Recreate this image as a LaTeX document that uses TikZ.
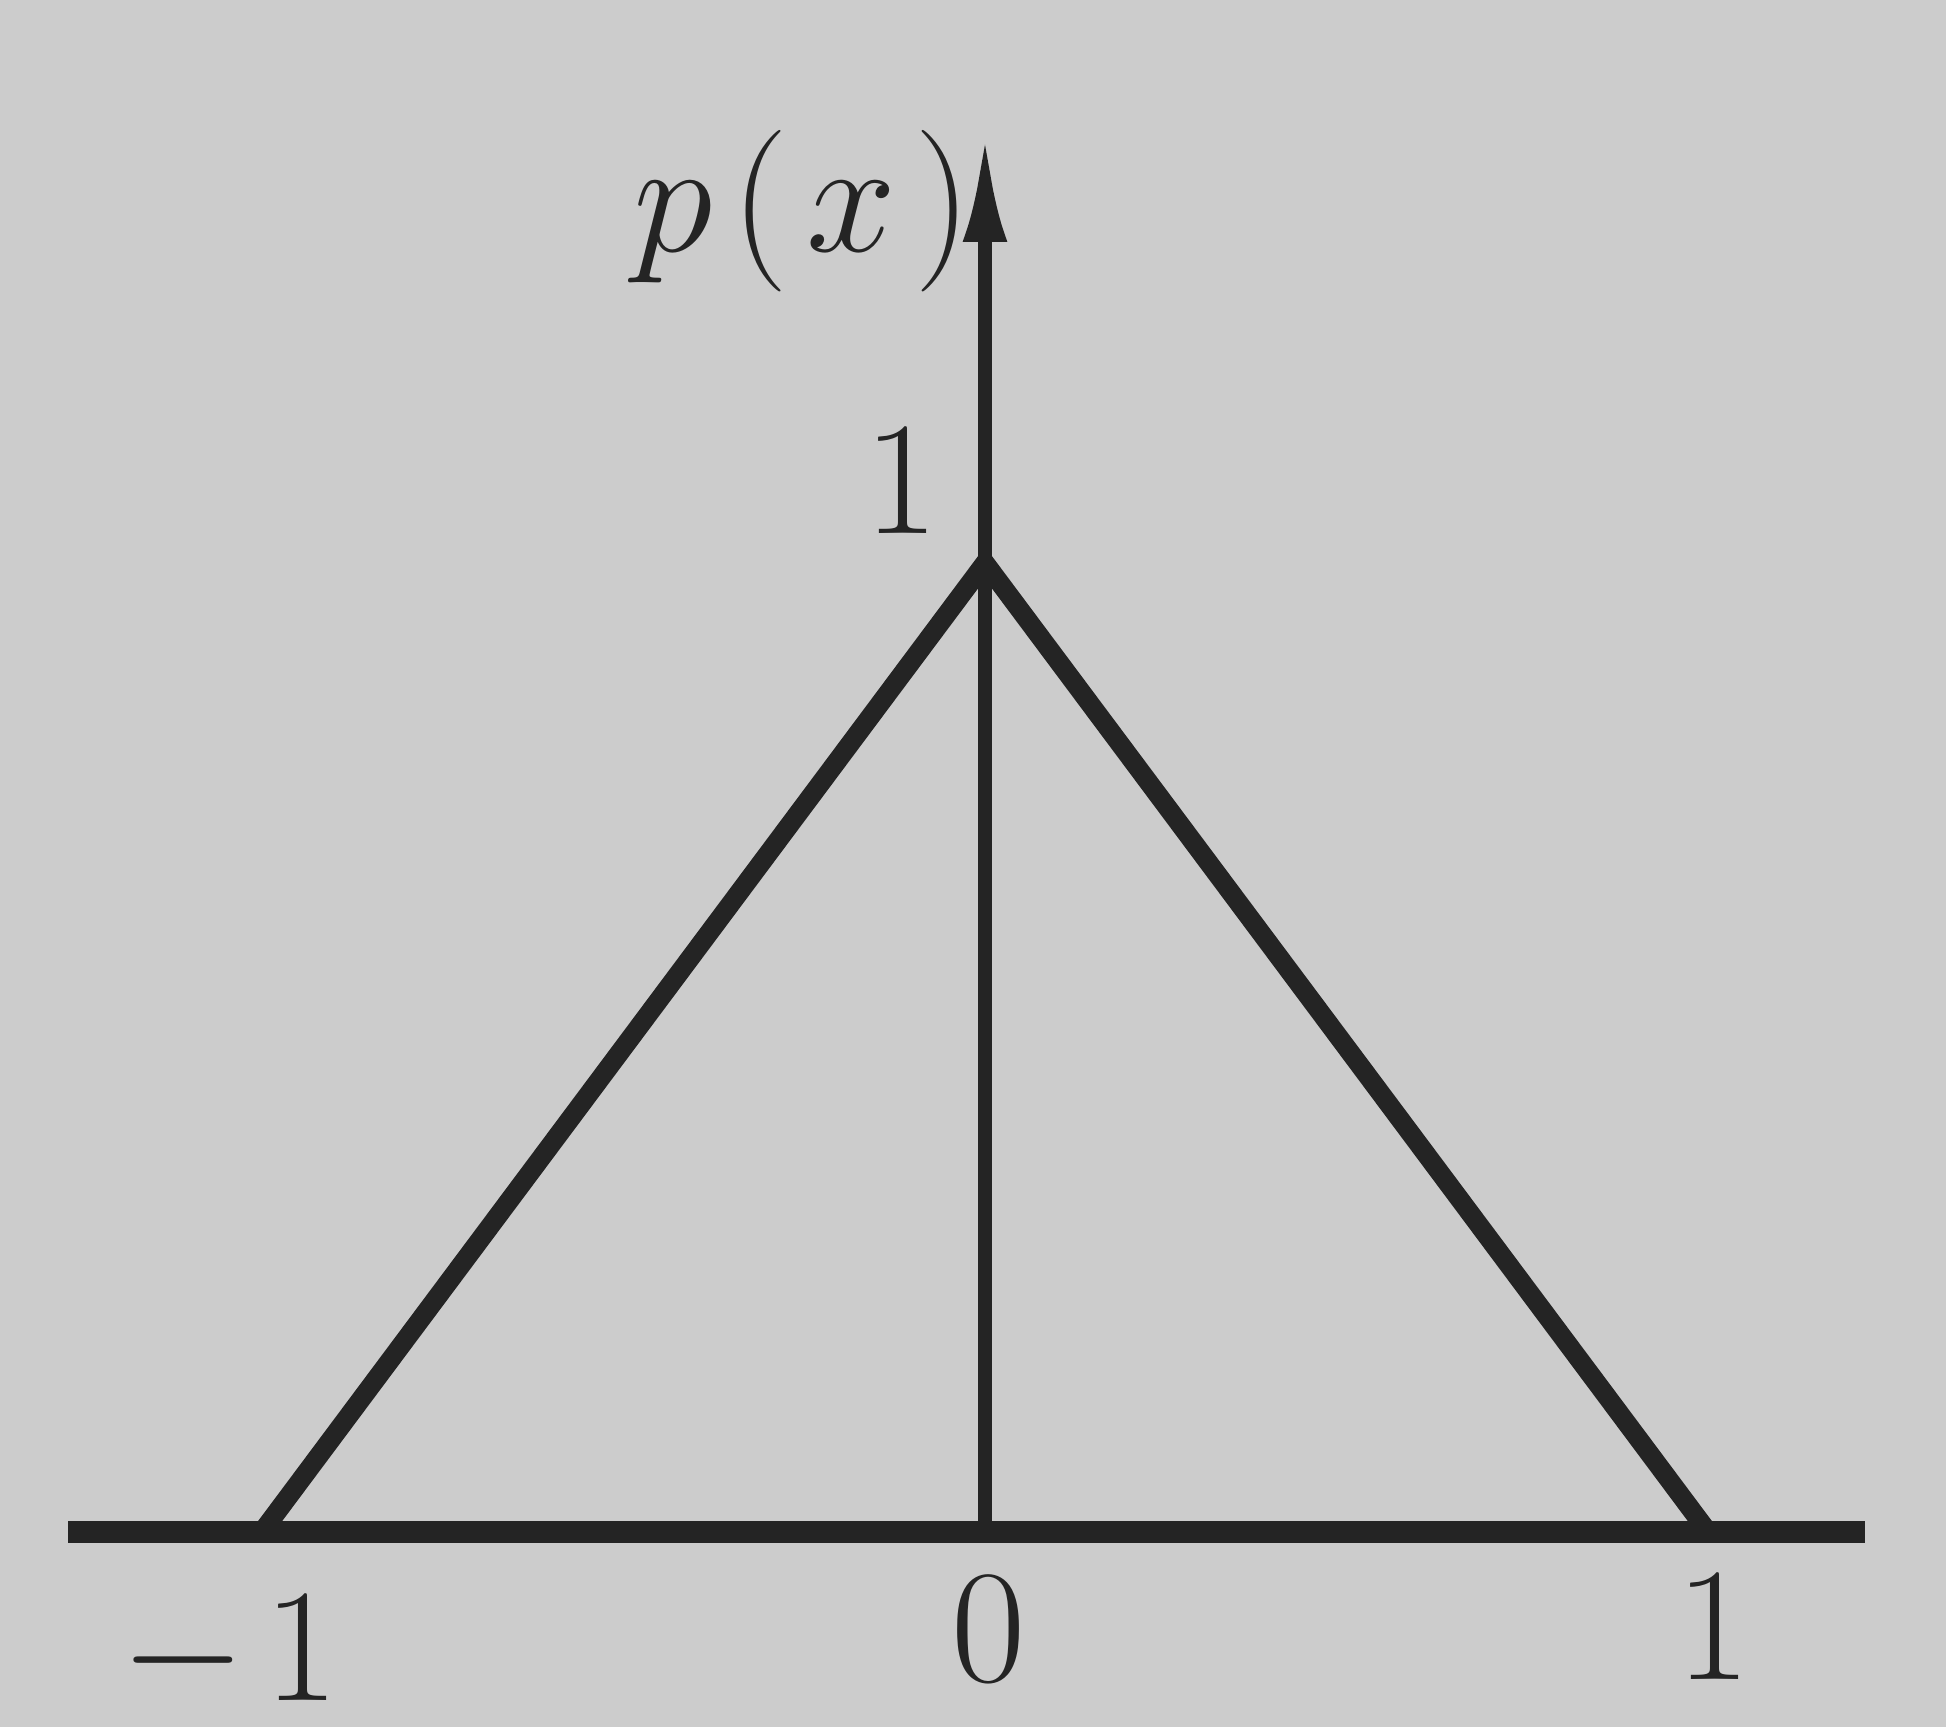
\RequirePackage{fix-cm}
\documentclass[tikz,border=0pt]{standalone}
\usepackage{amsmath}
\usepackage{amssymb}
\usetikzlibrary{arrows.meta}
\definecolor{paper}{RGB}{204,204,204}
\definecolor{ink}{RGB}{36,36,36}
\tikzset{
	axis/.style={ink, line width=6pt},
	yaxis/.style={ink, line width=4pt, -{Latex[length=1.1cm,width=0.44cm]}},
	graph/.style={ink, line width=5.5pt, line join=miter},
	lbl/.style={ink, font=\fontsize{46}{50}\selectfont, inner sep=0pt}
}
\begin{document}
\begin{tikzpicture}[x=7.23cm, y=9.69cm]
			\fill[paper] (-1.3624,-0.2012) rectangle (1.3292,1.5810);
			\useasboundingbox (-1.3624,-0.2012) rectangle (1.3292,1.5810);
			\coordinate (O) at (0,0);
			\coordinate (xl) at (-1.268,0);
			\coordinate (xr) at (1.217,0);
			\coordinate (ytop) at (0,1.445);
			\coordinate (L) at (-1,0);
			\coordinate (R) at (1,0);
			\coordinate (T) at (0,1);
			\draw[axis] (xl) -- (xr);
			\draw[yaxis] (O) -- (ytop);
			\draw[graph] (L) -- (T) -- (R);
			\node [lbl, anchor=base] (py) at (-0.252,1.321) {$p\mkern2mu(\mkern2mu x\mkern2mu)$};
			\node [lbl] (ty) at (-0.115,1.084) {$1$};
			\node [lbl] (tl) at (-1.045,-0.127) {$-\mkern2mu 1$};
			\node [lbl] (to) at (0.005,-0.101) {$0$};
			\node [lbl] (tr) at (1.008,-0.098) {$1$};
		\end{tikzpicture}
\end{document}
